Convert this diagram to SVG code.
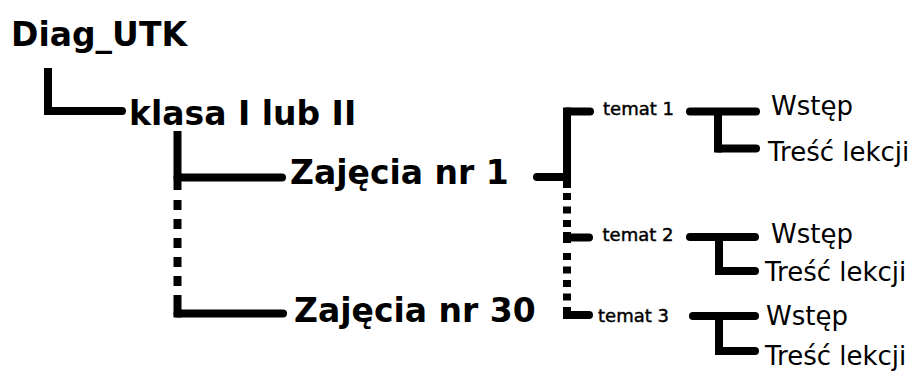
<svg xmlns="http://www.w3.org/2000/svg" width="912" height="372" viewBox="0 0 912 372">
<style>
.b{font-family:"DejaVu Sans","Liberation Sans",sans-serif;font-weight:bold;font-size:33px;fill:#000}
.t{font-family:"DejaVu Sans","Liberation Sans",sans-serif;font-size:18px;fill:#000;stroke:#000;stroke-width:0.45}
.r{font-family:"DejaVu Sans","Liberation Sans",sans-serif;font-size:26px;fill:#000}
.v{stroke:#000;stroke-width:8;fill:none;stroke-linecap:butt}
.h{stroke:#000;stroke-width:8;fill:none;stroke-linecap:round}
.d1{stroke:#000;stroke-width:8;fill:none;stroke-dasharray:10 9}
.d2{stroke:#000;stroke-width:8;fill:none;stroke-dasharray:7 6.5}
</style>
<rect width="912" height="372" fill="#fff"/>
<g id="connectors">
  <line class="v" x1="48" y1="68" x2="48" y2="115"/>
  <line class="h" x1="48" y1="111" x2="122" y2="111"/>
  <line class="v" x1="177.5" y1="131" x2="177.5" y2="190"/>
  <line class="h" x1="177.5" y1="177.5" x2="282" y2="177.5"/>
  <line class="d1" x1="177.5" y1="200" x2="177.5" y2="286"/>
  <line class="v" x1="177.5" y1="295" x2="177.5" y2="317.5"/>
  <line class="h" x1="177.5" y1="313.5" x2="283" y2="313.5"/>
  <line class="h" x1="537" y1="177" x2="567" y2="177"/>
  <line class="v" x1="567" y1="107.5" x2="567" y2="188"/>
  <line class="h" x1="567" y1="111.5" x2="590" y2="111.5"/>
  <line class="d2" x1="567" y1="193" x2="567" y2="232"/>
  <line class="v" x1="567" y1="232" x2="567" y2="243"/>
  <line class="h" x1="567" y1="237.5" x2="589" y2="237.5"/>
  <line class="d2" x1="567" y1="253" x2="567" y2="302"/>
  <line class="v" x1="567" y1="307" x2="567" y2="319"/>
  <line class="h" x1="567" y1="315" x2="589" y2="315"/>
  <line class="h" x1="690" y1="111.5" x2="756" y2="111.5"/>
  <line class="v" x1="718" y1="111.5" x2="718" y2="152.5"/>
  <line class="h" x1="718" y1="148.5" x2="756" y2="148.5"/>
  <line class="h" x1="690" y1="237" x2="755" y2="237"/>
  <line class="v" x1="719" y1="237" x2="719" y2="275"/>
  <line class="h" x1="719" y1="271" x2="755" y2="271"/>
  <line class="h" x1="693" y1="316" x2="755" y2="316"/>
  <line class="v" x1="719" y1="316" x2="719" y2="355"/>
  <line class="h" x1="719" y1="351" x2="755" y2="351"/>
</g>
<g id="diag"><text class="b" x="11" y="46">Diag_UTK</text></g>
<g id="klasa"><text class="b" x="129" y="125">klasa I lub II</text></g>
<g id="zaj1"><text class="b" x="290" y="183.5">Zajęcia nr 1</text></g>
<g id="zaj30"><text class="b" x="294" y="321.5">Zajęcia nr 30</text></g>
<g id="temat1"><text class="t" x="603" y="115">temat 1</text></g>
<g id="temat2"><text class="t" x="602.5" y="241">temat 2</text></g>
<g id="temat3"><text class="t" x="598" y="321.5">temat 3</text></g>
<g id="wstep1"><text class="r" x="771" y="115">Wstęp</text></g>
<g id="tresc1"><text class="r" x="768" y="161">Treść lekcji</text></g>
<g id="wstep2"><text class="r" x="771" y="243">Wstęp</text></g>
<g id="tresc2"><text class="r" x="765" y="281">Treść lekcji</text></g>
<g id="wstep3"><text class="r" x="766" y="325">Wstęp</text></g>
<g id="tresc3"><text class="r" x="765" y="365">Treść lekcji</text></g>
</svg>
